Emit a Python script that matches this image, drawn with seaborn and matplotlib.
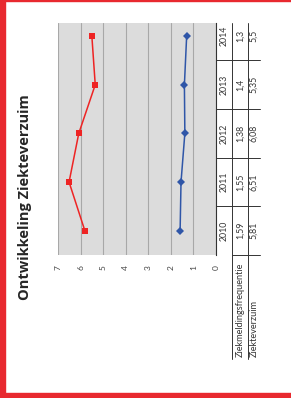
import matplotlib
matplotlib.use('Agg')
import matplotlib.pyplot as plt
from matplotlib.lines import Line2D
from matplotlib.patches import Rectangle
from matplotlib.transforms import blended_transform_factory
import seaborn as sns
import pandas as pd

# data
jaren = ['2010', '2011', '2012', '2013', '2014']
frequentie = [1.59, 1.55, 1.38, 1.4, 1.3]
verzuim = [5.81, 6.51, 6.08, 5.35, 5.5]
freq_labels = ['1,59', '1,55', '1,38', '1,4', '1,3']
verzuim_labels = ['5,81', '6,51', '6,08', '5,35', '5,5']
rij_namen = ['Ziekmeldingsfrequentie', 'Ziekteverzuim']
titel = 'Ontwikkeling Ziekteverzuim'

W, H = 291, 398
sns.set_style('white')
plt.rcParams['font.family'] = ['Lato', 'DejaVu Sans']

fig = plt.figure(figsize=(W / 100, H / 100), dpi=100)


def fx(x):
    return x / W


def fy(y):
    return 1 - y / H


# red frame of the slide
rood = '#e8292f'
fig.patches.append(Rectangle((0, 0), fx(5), 1, transform=fig.transFigure, color=rood, zorder=0))
fig.patches.append(Rectangle((0, fy(1.2)), 1, 1.2 / H, transform=fig.transFigure, color=rood, zorder=0))
fig.patches.append(Rectangle((0, fy(397)), 1, 4 / H, transform=fig.transFigure, color=rood, zorder=0))

# plot area (chart is rotated 90 degrees)
ax = fig.add_axes([fx(58), fy(255), fx(216 - 58), (255 - 23) / H])
ax.set_facecolor('#dcdcdc')

df = pd.DataFrame({'idx': range(len(jaren)), 'freq': frequentie, 'verzuim': verzuim})
sns.lineplot(data=df, x='freq', y='idx', orient='y', sort=False, color='#2f56a8',
             marker='D', markersize=3.8, markeredgewidth=0, linewidth=1.1, ax=ax)
sns.lineplot(data=df, x='verzuim', y='idx', orient='y', sort=False, color='#ee2424',
             marker='s', markersize=5, markeredgewidth=0, linewidth=1.1, ax=ax)

ax.set_xlim(7, 0)
ax.set_ylim(-0.5, 4.27)
ax.set_xticks(range(0, 8))
ax.set_xticklabels([str(i) for i in range(0, 8)], rotation=90, fontsize=6, color='#444444')
ax.tick_params(axis='x', length=0, pad=7)
ax.set_yticks([])
ax.set_xlabel('')
ax.set_ylabel('')
ax.grid(axis='x', color='#a8a8a8', linewidth=0.8)
ax.grid(axis='y', visible=False)
for s in ['top', 'bottom', 'left']:
    ax.spines[s].set_visible(False)
ax.spines['right'].set_color('#333333')
ax.spines['right'].set_linewidth(0.8)

# title
fig.text(fx(25), fy(197), titel, rotation=90, ha='center', va='center',
         fontsize=10.5, fontweight='bold', family=['Open Sans', 'DejaVu Sans'])

# data table
tekst = '#333333'
tr = blended_transform_factory(fig.transFigure, ax.transData)
for i, j in enumerate(jaren):
    fig.text(fx(224), i, j, transform=tr, rotation=90, ha='center', va='center', fontsize=6.3, color=tekst)
    fig.text(fx(240), i, freq_labels[i], transform=tr, rotation=90, ha='center', va='center', fontsize=6.3, color=tekst)
    fig.text(fx(254), i, verzuim_labels[i], transform=tr, rotation=90, ha='center', va='center', fontsize=6.3, color=tekst)
    if i > 0:
        fig.add_artist(Line2D([fx(216), fx(260)], [i - 0.5, i - 0.5], transform=tr, color='#333333', linewidth=0.7))
fig.add_artist(Line2D([fx(232), fx(260)], [-0.5, -0.5], transform=tr, color='#333333', linewidth=0.7))
for x in [232, 248]:
    fig.add_artist(Line2D([fx(x), fx(x)], [fy(23), fy(359)], transform=fig.transFigure, color='#333333', linewidth=0.7))

fig.text(fx(240), fy(357), rij_namen[0], rotation=90, ha='center', va='bottom', fontsize=6.6, color=tekst)
fig.text(fx(254), fy(357), rij_namen[1], rotation=90, ha='center', va='bottom', fontsize=6.6, color=tekst)

fig.savefig('out.png', dpi=100, facecolor='white')
